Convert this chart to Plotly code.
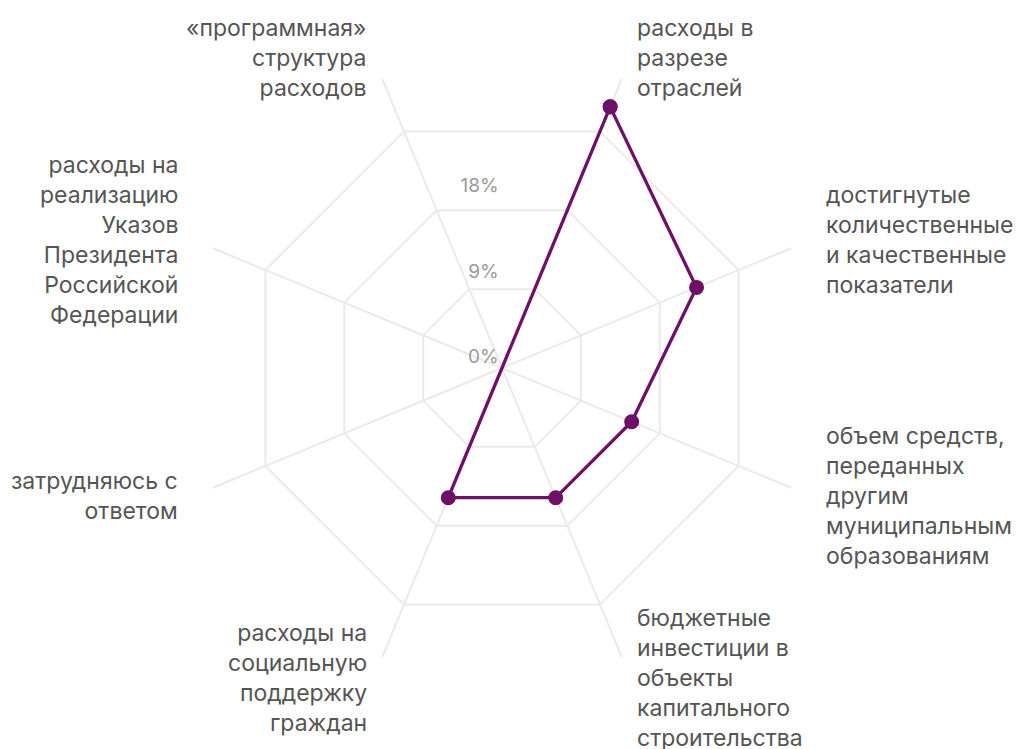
import math
import plotly.graph_objects as go

categories = [
    "расходы в<br>разрезе<br>отраслей",
    "достигнутые<br>количественные<br>и качественные<br>показатели",
    "объем средств,<br>переданных<br>другим<br>муниципальным<br>образованиям",
    "бюджетные<br>инвестиции в<br>объекты<br>капитального<br>строительства",
    "расходы на<br>социальную<br>поддержку<br>граждан",
    "затрудняюсь с<br>ответом",
    "расходы на<br>реализацию<br>Указов<br>Президента<br>Российской<br>Федерации",
    "«программная»<br>структура<br>расходов",
]
values = [29.8, 22.2, 14.8, 14.8, 14.8, 0, 0, 0]

grid_vals = [0, 9, 18, 27]
label_vals = [0, 9, 18]
label_text = ["0%", "9%", "18%"]
r_max = 33

LINE = "#6e1066"
GRID = "#eaeaea"
TEXT = "#555555"
FONT = "Inter, 'Noto Sans', sans-serif"

# layout geometry (pixels; the page body adds an 8px offset)
W, H = 1021, 749
L, R, T, B = 181, 214, 36, 76
pw, ph = W - L - R, H - T - B          # plot area
side = pw                               # polar square side
lift = ph - side                        # radial tick labels sit a bit above their rings
rotation = 67.5

fig = go.Figure()
fig.add_trace(go.Scatterpolar(
    r=values + values[:1],
    theta=categories + categories[:1],
    mode="lines+markers",
    line=dict(color=LINE, width=3.3),
    marker=dict(color=LINE, size=15),
    hoverinfo="skip",
    showlegend=False,
    subplot="polar",
))
# empty trace that only carries the radial tick labels (drawn at 90°)
fig.add_trace(go.Scatterpolar(r=[], theta=[], subplot="polar2",
                              showlegend=False, hoverinfo="skip"))

# category labels around the chart, placed from each category's angle
kx, ky = 1.112, 1.072
annotations = []
n = len(categories)
for i, cat in enumerate(categories):
    a = math.radians(rotation - 360.0 / n * i)
    cx, cy = 0.5 * side, 0.5 * side  # center relative to polar box (from bottom-left)
    x_px = cx + kx * 0.5 * side * math.cos(a)
    y_px = cy + ky * 0.5 * side * math.sin(a)
    left = math.cos(a) > 0
    annotations.append(dict(
        x=x_px / pw, y=y_px / ph, xref="paper", yref="paper",
        text=cat, showarrow=False,
        xanchor="left" if left else "right",
        yanchor="middle",
        align="left" if left else "right",
        font=dict(size=23, color=TEXT, family=FONT),
    ))

fig.update_layout(
    width=W, height=H,
    paper_bgcolor="white",
    plot_bgcolor="white",
    margin=dict(l=L, r=R, t=T, b=B),
    font=dict(family=FONT, color=TEXT),
    annotations=annotations,
    polar=dict(
        bgcolor="white",
        gridshape="linear",
        domain=dict(x=[0, 1], y=[0, side / ph]),
        radialaxis=dict(
            range=[0, r_max],
            tickvals=grid_vals,
            showticklabels=False,
            showline=False,
            ticks="",
            gridcolor=GRID,
            gridwidth=1.8,
        ),
        angularaxis=dict(
            direction="clockwise",
            rotation=rotation,
            showline=False,
            showticklabels=False,
            ticks="",
            gridcolor=GRID,
            gridwidth=1.8,
        ),
    ),
    polar2=dict(
        bgcolor="rgba(0,0,0,0)",
        domain=dict(x=[0, 1], y=[lift / ph, 1]),
        radialaxis=dict(
            range=[0, r_max],
            tickvals=label_vals,
            ticktext=label_text,
            angle=90,
            tickangle=90,
            side="counterclockwise",
            showline=False,
            showgrid=False,
            ticks="",
            tickfont=dict(size=19, color="#9a9a9a", family=FONT),
        ),
        angularaxis=dict(visible=False),
    ),
)

fig.write_html("out.html")
